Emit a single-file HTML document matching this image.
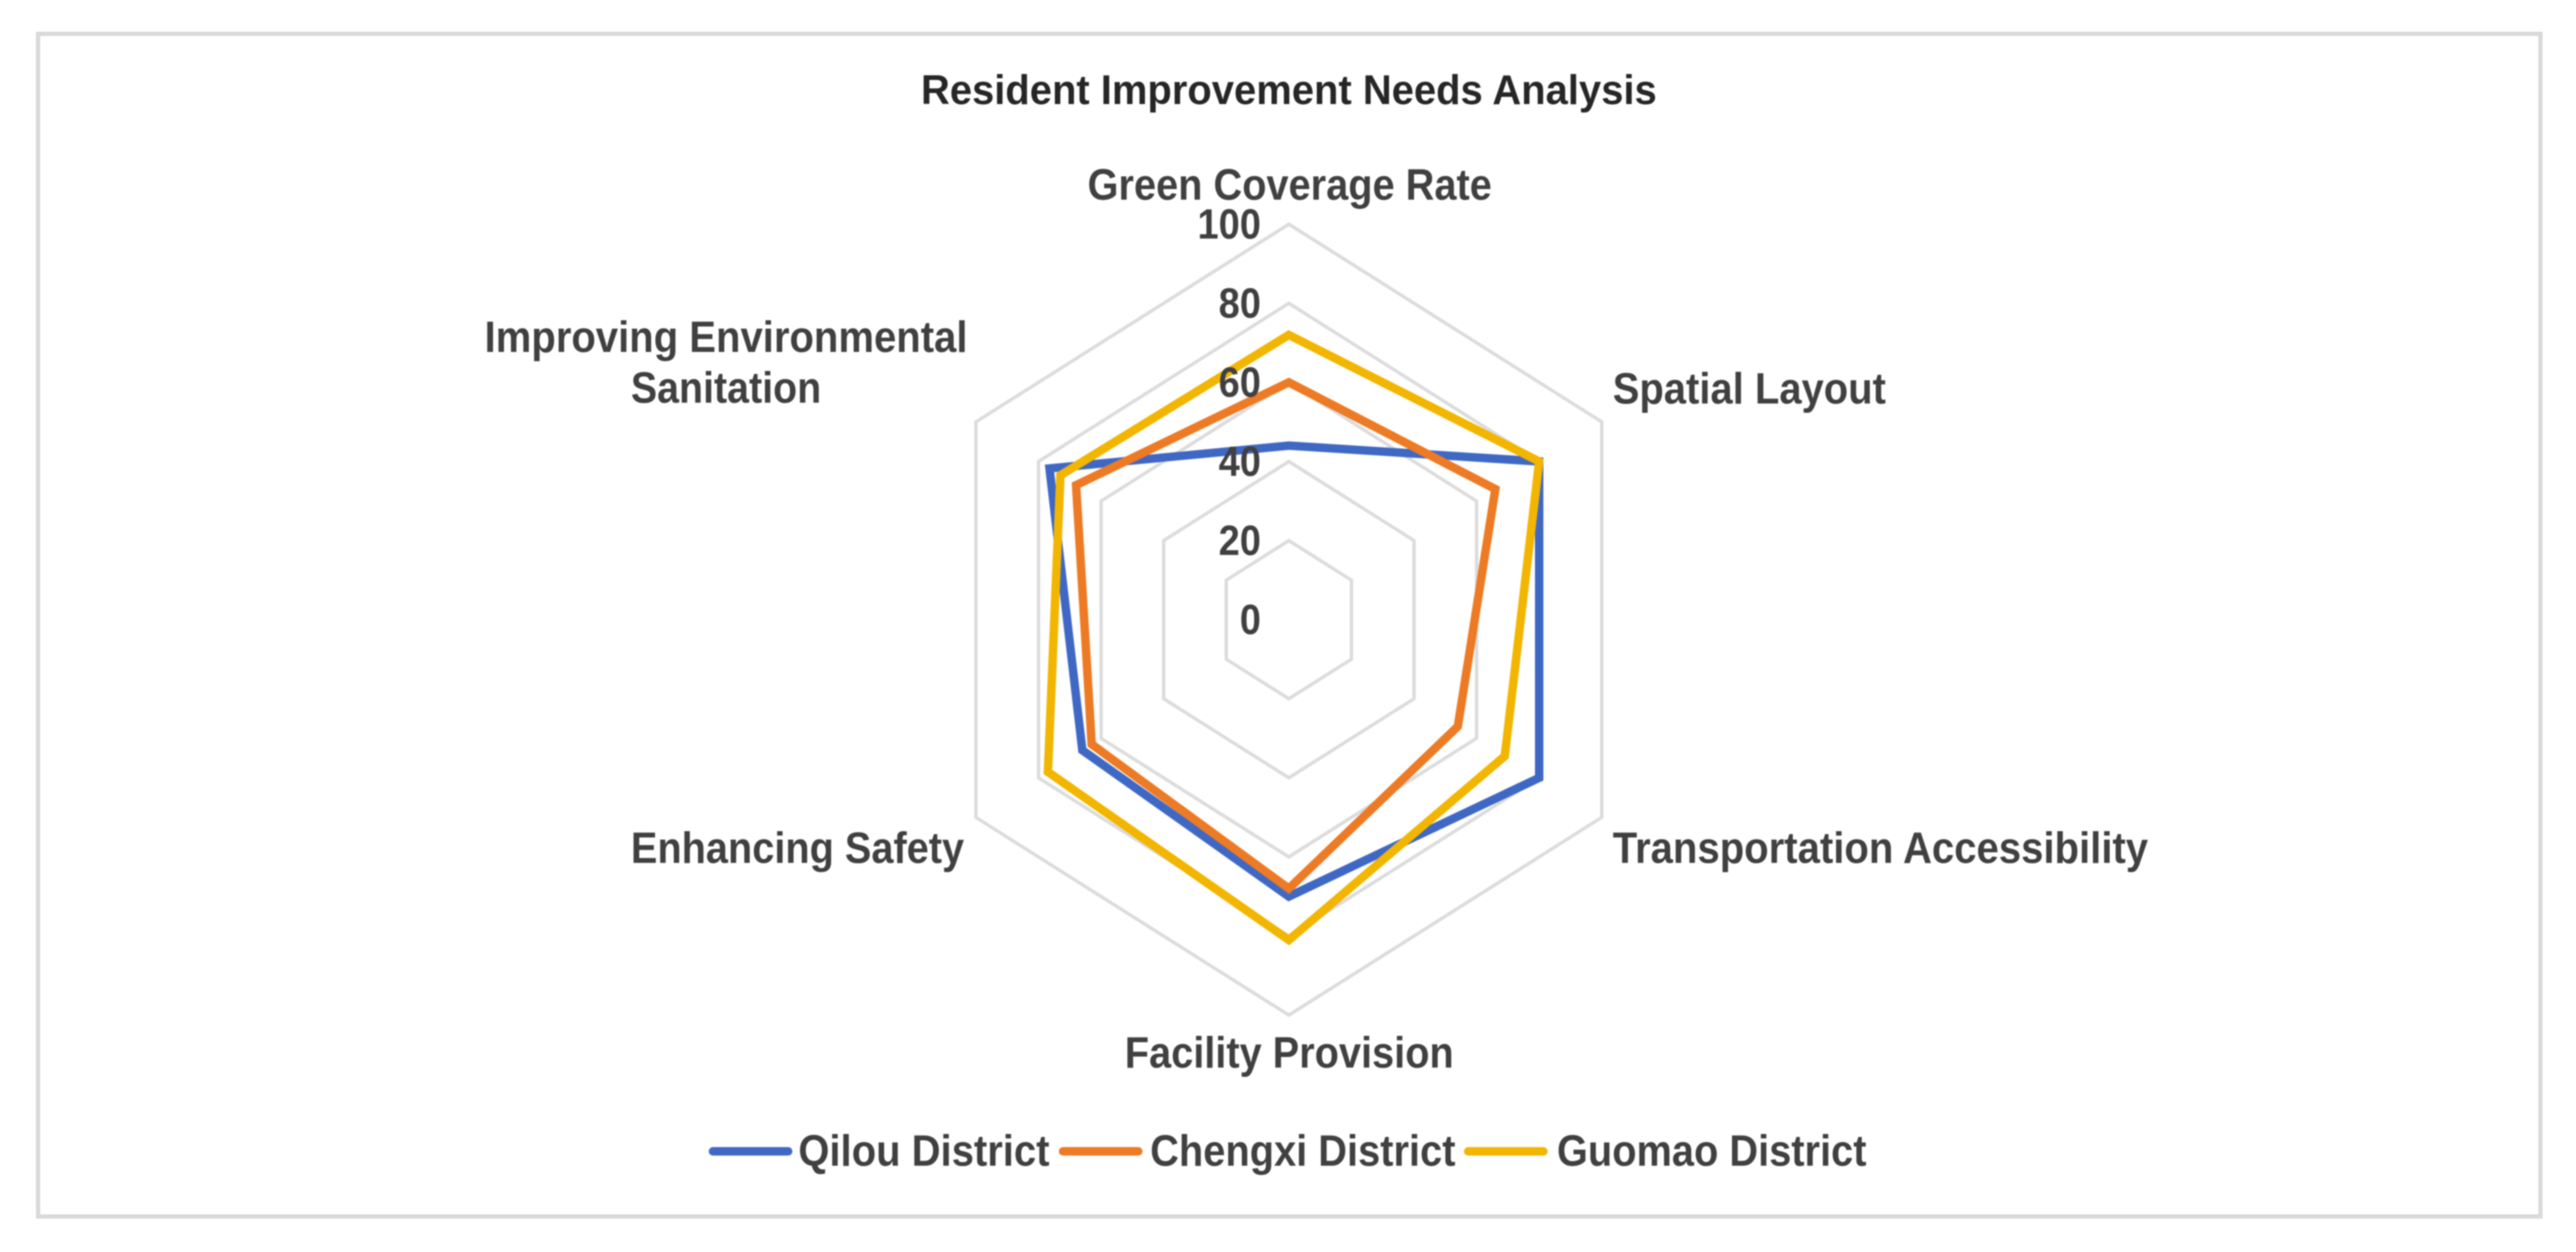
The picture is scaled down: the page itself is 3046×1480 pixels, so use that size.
<!DOCTYPE html>
<html lang="en">
<head>
<meta charset="utf-8">
<title>Resident Improvement Needs Analysis</title>
<style>
  html, body { margin: 0; padding: 0; background: #ffffff; }
  #chart { display: block; width: 3046px; height: 1480px; font-family: "Liberation Sans", Arial, sans-serif; font-weight: 700; filter: blur(0.7px); }
</style>
</head>
<body>
<svg id="chart" xmlns="http://www.w3.org/2000/svg" width="3046" height="1480" viewBox="0 0 3046 1480">
  <rect x="45" y="40" width="2959" height="1398" fill="#ffffff" stroke="#d9d9d9" stroke-width="5"/>
  <text x="1089" y="123" font-size="49" fill="#262626" textLength="870" lengthAdjust="spacingAndGlyphs">Resident Improvement Needs Analysis</text>
  <g id="grid"></g>
  <g id="series"></g>
  <g id="ticks"></g>
  <g id="categories"></g>
  <g id="legend"></g>
</svg>
<script>
const categories = ["Green Coverage Rate", "Spatial Layout", "Transportation Accessibility", "Facility Provision", "Enhancing Safety", "Improving Environmental|Sanitation"];
const tickLabels = [0, 20, 40, 60, 80, 100];
const seriesNames = ["Qilou District", "Chengxi District", "Guomao District"];
const qilouValues = [44, 80, 80, 70, 66, 76.5];
const chengxiValues = [60, 66, 54, 68, 63, 68];
const guomaoValues = [72, 80, 69, 81, 77, 73];

const seriesValues = [qilouValues, chengxiValues, guomaoValues];
const seriesColors = ["#3f68c4", "#ed7a24", "#f2b500"];
const NS = "http://www.w3.org/2000/svg";
const cx = 1524, cy = 732.5, radiusX = 370, radiusY = 467.5, axisMax = 100;

function axisX(index, value) {
  const a = index * Math.PI / 3;
  return cx + Math.sin(a) * (2 / Math.sqrt(3)) * radiusX * (value / axisMax);
}
function axisY(index, value) {
  const a = index * Math.PI / 3;
  return cy - Math.cos(a) * radiusY * (value / axisMax);
}
function ringPoints(values) {
  return values.map(function (v, i) { return axisX(i, v).toFixed(1) + "," + axisY(i, v).toFixed(1); }).join(" ");
}
function addText(parent, content, x, y, size, fill, width) {
  const t = document.createElementNS(NS, "text");
  t.textContent = content;
  t.setAttribute("x", x);
  t.setAttribute("y", y);
  t.setAttribute("font-size", size);
  t.setAttribute("fill", fill);
  if (width) {
    t.setAttribute("textLength", width);
    t.setAttribute("lengthAdjust", "spacingAndGlyphs");
  }
  parent.appendChild(t);
  return t;
}

const gridGroup = document.getElementById("grid");
tickLabels.forEach(function (tick) {
  if (tick === 0) return;
  const ring = document.createElementNS(NS, "polygon");
  
  
  ring.setAttribute("points", ringPoints(categories.map(function () { return tick; })));
  ring.setAttribute("fill", "none");
  ring.setAttribute("stroke", "#dcdcdc");
  ring.setAttribute("stroke-width", "4");
  gridGroup.appendChild(ring);
});

const seriesGroup = document.getElementById("series");
seriesValues.forEach(function (values, s) {
  const line = document.createElementNS(NS, "polygon");
  
  
  line.setAttribute("points", ringPoints(values));
  line.setAttribute("fill", "none");
  line.setAttribute("stroke", seriesColors[s]);
  line.setAttribute("stroke-width", "10");
  line.setAttribute("stroke-linejoin", "miter");
  seriesGroup.appendChild(line);
});

const tickGroup = document.getElementById("ticks");
tickLabels.forEach(function (tick) {
  const label = addText(tickGroup, String(tick), 1491, (axisY(0, tick) + 17).toFixed(1), 50, "#404040", String(tick).length * 25);
  label.setAttribute("text-anchor", "end");
  
  
});

/* Label placement: [left, width, baseline] for each printed line, in category order. */
const labelPlacement = [
  [[1286, 478, 236]],
  [[1907, 323, 477]],
  [[1907, 633, 1020]],
  [[1330, 389, 1262]],
  [[746, 394, 1020]],
  [[573, 571, 416], [746, 225, 476]]
];
const categoryGroup = document.getElementById("categories");
categories.forEach(function (name, i) {
  name.split("|").forEach(function (part, k) {
    const p = labelPlacement[i][k];
    const label = addText(categoryGroup, part, p[0], p[2], 52, "#404040", p[1]);
    
    
  });
});

/* Legend placement: [lineStart, lineEnd, textLeft, textWidth] */
const legendPlacement = [
  [843, 932, 944, 297],
  [1257, 1346, 1360, 361],
  [1736, 1825, 1841, 366]
];
const legendGroup = document.getElementById("legend");
seriesNames.forEach(function (name, s) {
  const p = legendPlacement[s];
  const entry = document.createElementNS(NS, "g");
  
  
  const swatch = document.createElementNS(NS, "line");
  
  
  swatch.setAttribute("x1", p[0]);
  swatch.setAttribute("x2", p[1]);
  swatch.setAttribute("y1", 1361);
  swatch.setAttribute("y2", 1361);
  swatch.setAttribute("stroke", seriesColors[s]);
  swatch.setAttribute("stroke-width", "10");
  swatch.setAttribute("stroke-linecap", "round");
  entry.appendChild(swatch);
  const label = addText(entry, name, p[2], 1378, 52, "#404040", p[3]);
  
  
  legendGroup.appendChild(entry);
});
</script>
</body>
</html>
